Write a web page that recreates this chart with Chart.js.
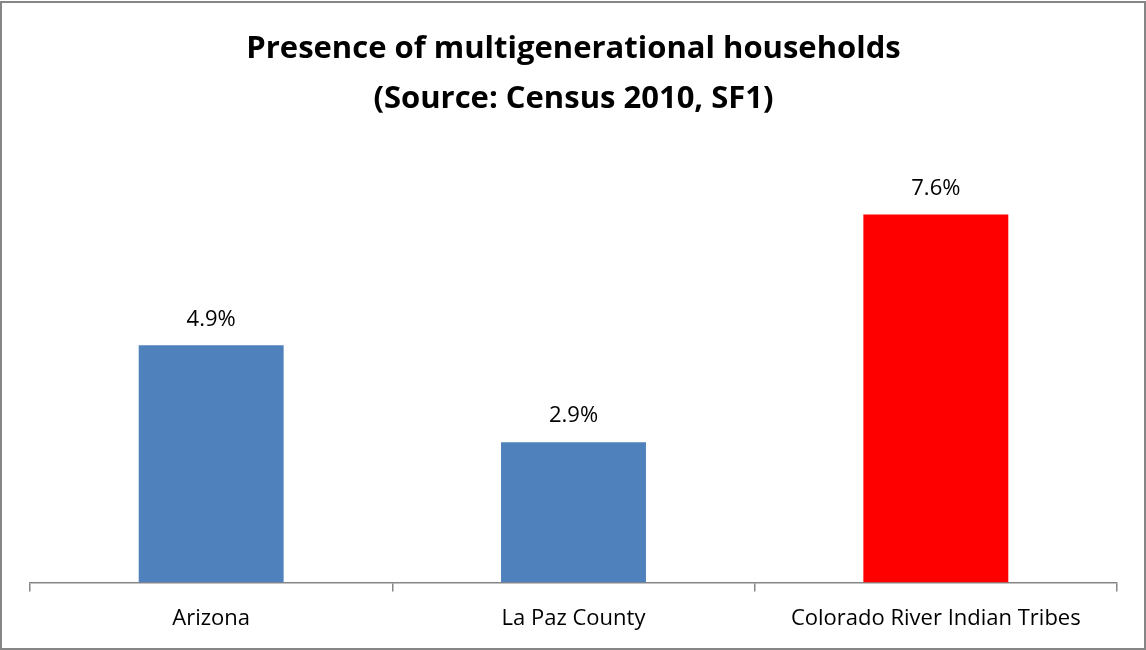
<!DOCTYPE html>
<html>
<head>
<meta charset="utf-8">
<script src="https://cdn.jsdelivr.net/npm/chart.js@4"></script>
<style>
html,body{margin:0;padding:0;background:#fff;}
#wrap{width:1146px;height:650px;position:relative;}
</style>
</head>
<body>
<div id="wrap"><canvas id="c" width="1146" height="650"></canvas></div>
<script>
const categories = ['Arizona', 'La Paz County', 'Colorado River Indian Tribes'];
const values = [4.9, 2.9, 7.6];
const valueLabels = ['4.9%', '2.9%', '7.6%'];
const barColors = ['#4F81BD', '#4F81BD', '#FF0000'];
const titleLines = ['Presence of multigenerational households', '(Source: Census 2010, SF1)'];

const FONT = "'Open Sans', 'Liberation Sans', sans-serif";

const borderPlugin = {
  id: 'frame',
  afterDraw(chart) {
    const ctx = chart.ctx;
    ctx.save();
    ctx.strokeStyle = '#868686';
    ctx.lineWidth = 2;
    ctx.strokeRect(1, 2, chart.width - 2, chart.height - 3);
    ctx.restore();
  }
};

const valueLabelPlugin = {
  id: 'valueLabels',
  afterDatasetsDraw(chart) {
    const ctx = chart.ctx;
    const meta = chart.getDatasetMeta(0);
    ctx.save();
    ctx.font = '22px ' + FONT;
    ctx.fillStyle = '#000';
    ctx.textAlign = 'center';
    ctx.textBaseline = 'middle';
    meta.data.forEach((bar, i) => {
      ctx.fillText(valueLabels[i], bar.x, bar.y - 26);
    });
    ctx.restore();
  }
};

new Chart(document.getElementById('c'), {
  type: 'bar',
  data: {
    labels: categories,
    datasets: [{
      data: values,
      backgroundColor: barColors,
      borderWidth: 0,
      barPercentage: 0.4,
      categoryPercentage: 1.0
    }]
  },
  options: {
    responsive: false,
    animation: false,
    layout: { padding: { left: 30, right: 29, top: 0, bottom: 4 } },
    plugins: {
      legend: { display: false },
      tooltip: { enabled: false },
      title: {
        display: true,
        text: titleLines,
        color: '#000',
        font: { family: FONT, size: 31, weight: 'bold', lineHeight: 1.61 },
        padding: { top: 24, bottom: 23 }
      }
    },
    scales: {
      x: {
        offset: true,
        grid: { offset: true, drawOnChartArea: false, drawTicks: true, tickLength: 9, color: '#868686', lineWidth: 1.5 },
        border: { display: true, color: '#868686', width: 1.5 },
        ticks: { color: '#000', font: { family: FONT, size: 22 }, padding: 14, maxRotation: 0, autoSkip: false }
      },
      y: {
        display: false,
        min: 0,
        max: 9
      }
    }
  },
  plugins: [borderPlugin, valueLabelPlugin]
});
</script>
</body>
</html>
